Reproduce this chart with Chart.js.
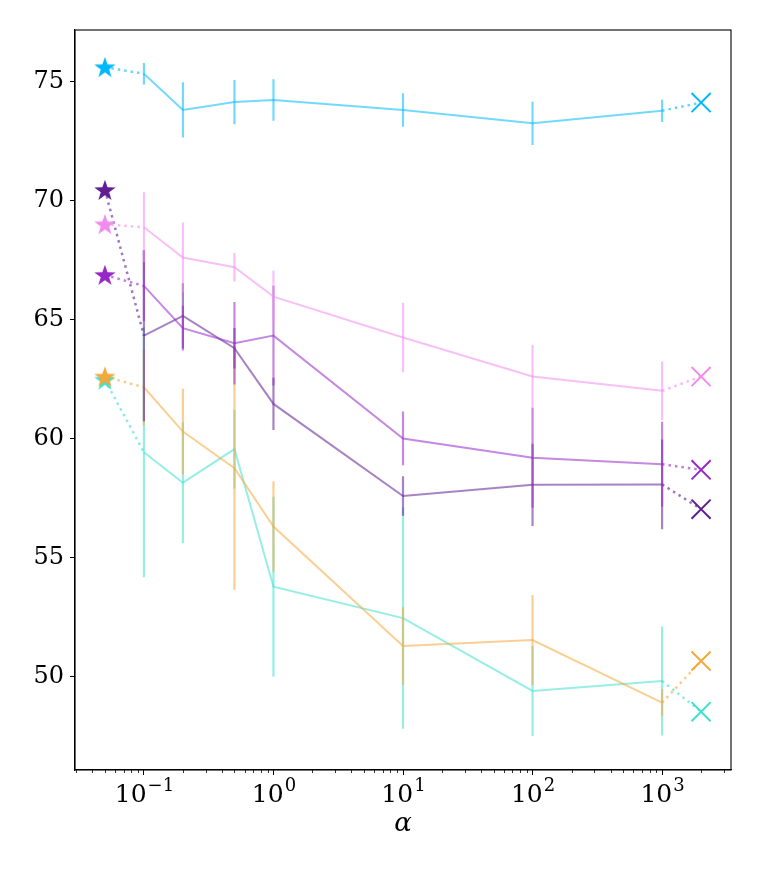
<!DOCTYPE html>
<html>
<head>
<meta charset="utf-8">
<script src="https://cdn.jsdelivr.net/npm/chart.js@4.4.1/dist/chart.umd.min.js"></script>
<style>
  html, body { margin: 0; padding: 0; background: #fff; }
  #wrap { width: 761px; height: 870px; position: relative; }
</style>
</head>
<body>
<div id="wrap"><canvas id="chart-alpha"></canvas></div>
<script>
// x values of the sweep and the two reference points
var ALPHAS = [0.1, 0.2, 0.5, 1, 10, 100, 1000];
var START_X = 0.05;
var END_X = 2000;

// x tick labels are 10^exp, drawn with a raised exponent
var X_TICKS = [0.1, 1, 10, 100, 1000];
var X_TICK_BASE = ['10', '10', '10', '10', '10'];
var X_TICK_EXP = ['\u22121', '0', '1', '2', '3'];
var Y_TICKS = [50, 55, 60, 65, 70, 75];

// per series: mean, error, star value (left), cross value (right)
var skyMean = [75.32, 73.80, 74.13, 74.22, 73.80, 73.24, 73.77];
var skyErr = [0.45, 1.16, 0.93, 0.87, 0.70, 0.91, 0.47];
var violetMean = [68.87, 67.60, 67.19, 65.96, 64.24, 62.60, 62.00];
var violetErr = [1.47, 1.47, 0.60, 1.08, 1.46, 1.33, 1.23];
var orchidMean = [66.41, 64.63, 64.00, 64.32, 60.00, 59.19, 58.92];
var orchidErr = [1.48, 0.94, 1.73, 2.10, 1.13, 2.10, 1.78];
var indigoMean = [64.32, 65.15, 63.79, 61.45, 57.58, 58.05, 58.07];
var indigoErr = [3.60, 1.37, 0.85, 1.10, 0.83, 1.73, 1.89];
var orangeMean = [62.15, 60.29, 58.75, 56.30, 51.28, 51.53, 48.90];
var orangeErr = [1.60, 1.80, 5.11, 1.90, 1.63, 1.89, 0.57];
var turqMean = [59.42, 58.14, 59.55, 53.77, 52.45, 49.39, 49.81];
var turqErr = [5.25, 2.54, 1.65, 3.78, 4.65, 1.89, 2.29];

var startValues = [75.60, 69.00, 66.87, 70.44, 62.60, 62.47];
var endValues = [74.11, 62.60, 58.68, 57.03, 50.65, 48.52];

var SERIES = [
  { mean: skyMean, err: skyErr, rgb: '0,185,250' },
  { mean: violetMean, err: violetErr, rgb: '240,140,238' },
  { mean: orchidMean, err: orchidErr, rgb: '150,40,200' },
  { mean: indigoMean, err: indigoErr, rgb: '95,30,145' },
  { mean: orangeMean, err: orangeErr, rgb: '245,168,60' },
  { mean: turqMean, err: turqErr, rgb: '64,224,208' }
];

var LINE_ALPHA = 0.55;
var FONT = "'DejaVu Serif', serif";

// filled five point star used as marker image
function makeStar(rgb) {
  var size = 26;
  var c = document.createElement('canvas');
  c.width = size; c.height = size;
  var g = c.getContext('2d');
  var R = 11.2, r = 4.4, cx = size / 2, cy = size / 2 + 0.9;
  g.beginPath();
  for (var i = 0; i < 10; i++) {
    var rad = (i % 2 === 0) ? R : r;
    var ang = -Math.PI / 2 + i * Math.PI / 5;
    var px = cx + rad * Math.cos(ang), py = cy + rad * Math.sin(ang);
    if (i === 0) g.moveTo(px, py); else g.lineTo(px, py);
  }
  g.closePath();
  g.fillStyle = 'rgb(' + rgb + ')';
  g.fill();
  return c;
}

function rgba(rgb, a) { return 'rgba(' + rgb + ',' + a + ')'; }

var datasets = [];
SERIES.forEach(function(s, k) {
  var col = rgba(s.rgb, LINE_ALPHA);
  // error bars as separate vertical segments
  var bars = [];
  ALPHAS.forEach(function(a, i) {
    bars.push({ x: a, y: s.mean[i] - s.err[i] });
    bars.push({ x: a, y: s.mean[i] + s.err[i] });
    bars.push({ x: a, y: null });
  });
  datasets.push({ data: bars, borderColor: col, borderWidth: 2.2, pointRadius: 0, spanGaps: false });
  datasets.push({
    data: ALPHAS.map(function(a, i) { return { x: a, y: s.mean[i] }; }),
    borderColor: col, borderWidth: 2, pointRadius: 0
  });
  // dotted links to the star and cross
  datasets.push({
    data: [{ x: START_X, y: startValues[k] }, { x: ALPHAS[0], y: s.mean[0] }],
    borderColor: rgba(s.rgb, 0.6), borderWidth: 2.5, borderDash: [2.5, 4], pointRadius: 0
  });
  datasets.push({
    data: [{ x: ALPHAS[ALPHAS.length - 1], y: s.mean[ALPHAS.length - 1] }, { x: END_X, y: endValues[k] }],
    borderColor: rgba(s.rgb, 0.6), borderWidth: 2.5, borderDash: [2.5, 4], pointRadius: 0
  });
  datasets.push({
    data: [{ x: START_X, y: startValues[k] }], showLine: false,
    pointStyle: makeStar(s.rgb), pointRadius: 13
  });
  datasets.push({
    data: [{ x: END_X, y: endValues[k] }], showLine: false,
    pointStyle: 'crossRot', pointRadius: 13.5, borderWidth: 2,
    borderColor: 'rgb(' + s.rgb + ')'
  });
});

// frame, minor log ticks and 10^n tick labels
var framePlugin = {
  id: 'frame',
  afterDraw: function(chart) {
    var a = chart.chartArea, ctx = chart.ctx, xs = chart.scales.x;
    ctx.save();
    ctx.strokeStyle = '#000';
    ctx.lineWidth = 1.1;
    ctx.strokeRect(a.left, a.top, a.right - a.left, a.bottom - a.top);
    ctx.lineWidth = 0.8;
    for (var d = -2; d <= 3; d++) {
      for (var m = 2; m <= 9; m++) {
        var v = m * Math.pow(10, d);
        if (v < xs.min || v > xs.max) continue;
        var px = Math.round(xs.getPixelForValue(v)) + 0.5;
        ctx.beginPath();
        ctx.moveTo(px, a.bottom);
        ctx.lineTo(px, a.bottom + 3);
        ctx.stroke();
      }
    }
    ctx.fillStyle = '#000';
    ctx.textBaseline = 'alphabetic';
    ctx.textAlign = 'left';
    var baseFont = '25px ' + FONT, expFont = '18px ' + FONT;
    X_TICKS.forEach(function(v, i) {
      ctx.font = baseFont;
      var wb = ctx.measureText(X_TICK_BASE[i]).width;
      ctx.font = expFont;
      var we = ctx.measureText(X_TICK_EXP[i]).width;
      var x0 = xs.getPixelForValue(v) - (wb + we) / 2;
      var yb = a.bottom + 31.5;
      ctx.font = baseFont;
      ctx.fillText(X_TICK_BASE[i], x0, yb);
      ctx.font = expFont;
      ctx.fillText(X_TICK_EXP[i], x0 + wb + 1, yb - 10.5);
    });
    ctx.restore();
  }
};

new Chart(document.getElementById('chart-alpha'), {
  type: 'line',
  data: { datasets: datasets },
  plugins: [framePlugin],
  options: {
    responsive: true,
    maintainAspectRatio: false,
    animation: false,
    events: [],
    layout: { padding: { top: 30, right: 30, left: 0, bottom: 30 } },
    plugins: { legend: { display: false }, tooltip: { enabled: false } },
    scales: {
      x: {
        type: 'logarithmic',
        min: Math.pow(10, -1.532),
        max: Math.pow(10, 3.532),
        afterBuildTicks: function(scale) {
          scale.ticks = X_TICKS.map(function(v) { return { value: v }; });
        },
        afterFit: function(scale) { scale.height = 70; },
        grid: { drawOnChartArea: false, tickLength: 5, tickColor: '#000', color: '#000' },
        border: { color: '#000', width: 1.1 },
        ticks: { display: false },
        title: {
          display: true, text: '\u03B1', color: '#000',
          font: { family: FONT, size: 26, style: 'italic' }, padding: 0
        }
      },
      y: {
        min: 46.07,
        max: 77.16,
        afterBuildTicks: function(scale) {
          scale.ticks = Y_TICKS.map(function(v) { return { value: v }; });
        },
        afterFit: function(scale) { scale.width = 75; },
        grid: { drawOnChartArea: false, tickLength: 5, tickColor: '#000', color: '#000' },
        border: { color: '#000', width: 1.1 },
        ticks: { color: '#000', font: { family: FONT, size: 24 }, padding: 6 }
      }
    }
  }
});
</script>
</body>
</html>
